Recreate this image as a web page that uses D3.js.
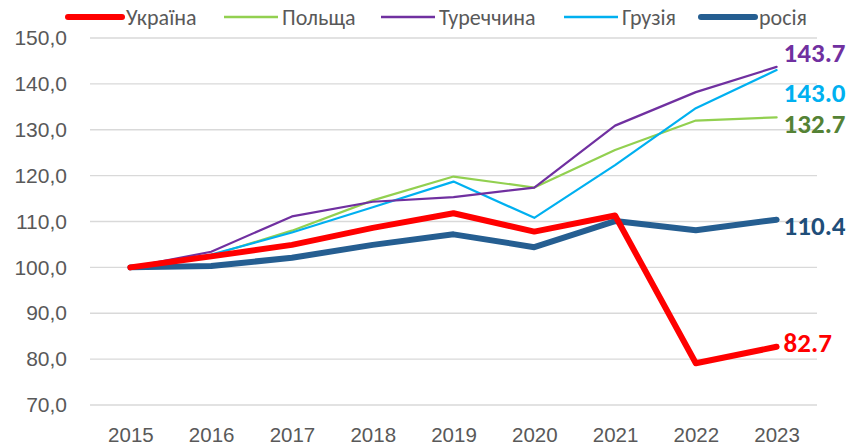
<!DOCTYPE html>
<html>
<head>
<meta charset="utf-8">
<script src="https://cdn.jsdelivr.net/npm/d3@7"></script>
<style>
    body { margin: 0; background: #fff; }
    svg { display: block; font-family: Carlito, Calibri, Lato, sans-serif; }
</style>
</head>
<body>
<svg id="chart" width="854" height="446"></svg>
<script>
// Data
const years = ['2015', '2016', '2017', '2018', '2019', '2020', '2021', '2022', '2023'];
const ukraine = [100.0, 102.4, 104.9, 108.6, 111.8, 107.8, 111.3, 79.1, 82.7];
const poland = [100.0, 102.6, 108.0, 114.6, 119.8, 117.4, 125.6, 132.0, 132.7];
const turkey = [100.0, 103.4, 111.1, 114.3, 115.3, 117.4, 130.9, 138.2, 143.7];
const georgia = [100.0, 102.8, 107.6, 113.1, 118.7, 110.8, 122.3, 134.7, 143.0];
const russia = [100.0, 100.3, 102.1, 104.9, 107.2, 104.4, 110.1, 108.1, 110.4];
const yTicks = [70, 80, 90, 100, 110, 120, 130, 140, 150];

const series = [
    { name: 'Україна', values: ukraine, color: '#ff0000', width: 6, labelColor: '#ff0000', labelDy: -4 },
    { name: 'Польща', values: poland, color: '#92d050', width: 2.2, labelColor: '#548235', labelDy: 6 },
    { name: 'Туреччина', values: turkey, color: '#7030a0', width: 2.2, labelColor: '#7030a0', labelDy: -14 },
    { name: 'Грузія', values: georgia, color: '#00b0f0', width: 2.2, labelColor: '#00b0f0', labelDy: 22 },
    { name: 'росія', values: russia, color: '#255e91', width: 6, labelColor: '#1f4e79', labelDy: 6 }
];

// Draw order: thin lines under thick ones as in the original
const drawOrder = [1, 3, 2, 4, 0];

const svg = d3.select('#chart');
const plotLeft = 90, plotRight = 817, plotTop = 38, plotBottom = 405;

const xScale = d3.scalePoint().domain(years).range([plotLeft, plotRight]).padding(0.5);
const yScale = d3.scaleLinear().domain([70, 150]).range([plotBottom, plotTop]);

// Gridlines
svg.append('g').selectAll('line').data(yTicks).enter().append('line')
    .attr('x1', plotLeft).attr('x2', plotRight)
    .attr('y1', d => yScale(d)).attr('y2', d => yScale(d))
    .attr('stroke', '#d9d9d9').attr('stroke-width', 1.3);

// Y axis labels
const yAxis = d3.axisLeft(yScale).tickValues(yTicks).tickSize(0).tickPadding(0)
    .tickFormat(d => d.toFixed(1).replace('.', ','));
const gy = svg.append('g').attr('transform', 'translate(67,0)').call(yAxis);
gy.select('.domain').remove();
gy.selectAll('text').attr('fill', '#595959').attr('font-size', 21).style('font-family', 'inherit');

// X axis labels
const xAxis = d3.axisBottom(xScale).tickSize(0).tickPadding(0);
const gx = svg.append('g').attr('transform', 'translate(0,427)').call(xAxis);
gx.select('.domain').remove();
gx.selectAll('text').attr('fill', '#595959').attr('font-size', 20.5).style('font-family', 'inherit');

// Lines
const line = d3.line().x((d, i) => xScale(years[i])).y(d => yScale(d));

drawOrder.forEach(i => {
    const s = series[i];
    svg.append('path').datum(s.values)
        .attr('fill', 'none')
        .attr('stroke', s.color)
        .attr('stroke-width', s.width)
        .attr('stroke-linejoin', 'round')
        .attr('stroke-linecap', 'round')
        .attr('d', line);
});

// End labels
series.forEach(s => {
    const last = s.values[s.values.length - 1];
    svg.append('text')
        .attr('x', xScale(years[years.length - 1]) + 7)
        .attr('y', yScale(last) + s.labelDy)
        .attr('dy', '0.35em')
        .attr('fill', s.labelColor)
        .attr('font-size', 27)
        .attr('font-weight', 'bold')
        .text(last.toFixed(1));
});

// Legend
const legendX = [68, 224, 381, 564, 701];
const legend = svg.append('g');
series.forEach((s, i) => {
    const g = legend.append('g').attr('transform', `translate(${legendX[i]},17)`);
    g.append('line').attr('x1', 0).attr('x2', 54).attr('y1', 0).attr('y2', 0)
        .attr('stroke', s.color).attr('stroke-width', s.width > 3 ? 6 : 2.5)
        .attr('stroke-linecap', s.width > 3 ? 'round' : 'butt');
    g.append('text').attr('x', 58).attr('dy', '0.35em')
        .attr('fill', '#595959').attr('font-size', 22).text(s.name);
});
</script>
</body>
</html>
